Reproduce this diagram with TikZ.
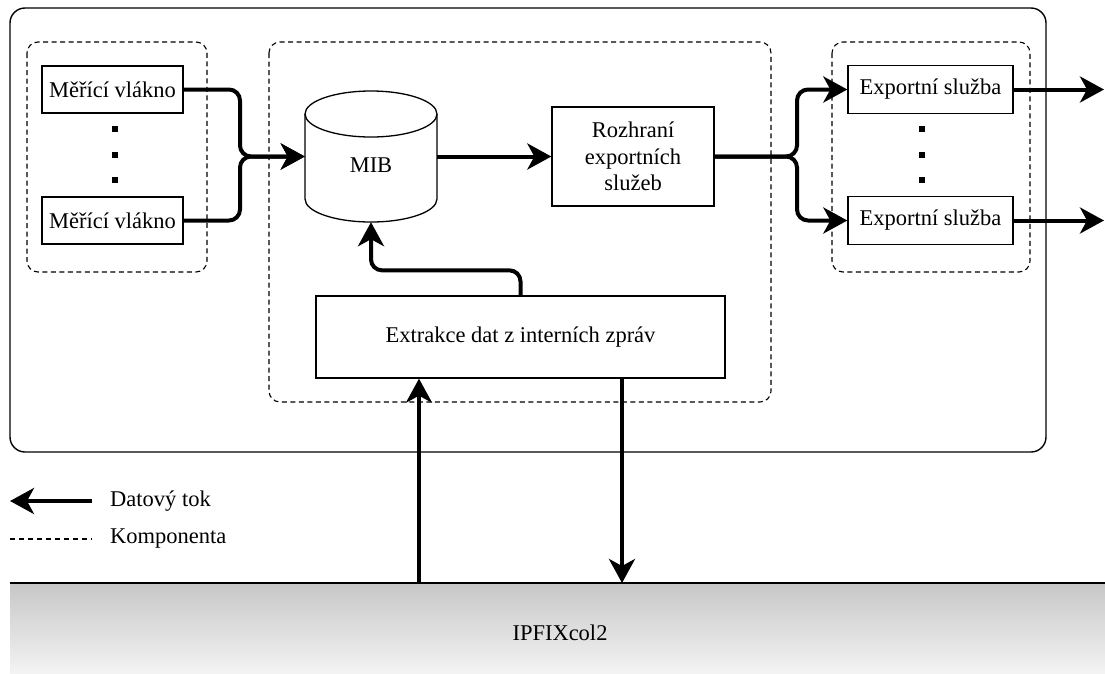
\documentclass[tikz,border=0pt]{standalone}
\usepackage{fontspec}
\setmainfont{LiberationSerif-Regular.ttf}
\usetikzlibrary{arrows.meta,calc}
\definecolor{bandtop}{RGB}{199,199,199}
\definecolor{bandbot}{RGB}{243,243,243}
\begin{document}
\begin{tikzpicture}[x=1pt,y=-1pt,
  txt/.style={font=\fontsize{22.5}{26.5}\selectfont, inner sep=0pt},
  box/.style={txt, draw, line width=1.3pt, fill=white, align=center},
  comp/.style={draw, line width=1.1pt, dash pattern=on 5pt off 3.5pt, rounded corners=11pt},
  flow/.style={line width=4pt, rounded corners=11pt, -{Stealth[length=24pt,width=26pt,inset=7pt]}},
  dot/.style={fill=black, inner sep=0pt, minimum size=6pt}
]
\useasboundingbox (0,0) rectangle (1105,673);

% outer frame
\draw[line width=1.4pt, rounded corners=15pt] (10,8) rectangle (1046,452);

% components
\draw[comp] (27,42) rectangle (207,272);
\draw[comp] (269,42) rectangle (771,402);
\draw[comp] (832,42) rectangle (1030,272);

% measuring threads
\node[box, minimum width=141pt, minimum height=47pt] (m1) at (112.5,89.5) {Měřící vlákno};
\node[box, minimum width=141pt, minimum height=47pt] (m2) at (112.5,220.5) {Měřící vlákno};
\node[dot] (d1) at (115,129) {};
\node[dot] (d2) at (115,154.5) {};
\node[dot] (d3) at (115,180) {};

% MIB cylinder
\draw[line width=1.3pt, fill=white]
  (305,114) -- (305,199) arc[start angle=180,end angle=0,x radius=66,y radius=23]
  -- (437,114) arc[start angle=0,end angle=-180,x radius=66,y radius=23] -- cycle;
\draw[line width=1.3pt] (305,114) arc[start angle=180,end angle=0,x radius=66,y radius=23];
\node[inner sep=0pt, minimum width=132pt, minimum height=131pt] (mib) at (371,156.5) {};
\node[txt] (mibt) at (371,165) {MIB};

% interface of export services
\node[box, minimum width=162pt, minimum height=99pt] (roz) at (633,156.5) {Rozhraní\\exportních\\služeb};

% exports
\node[box, minimum width=165pt, minimum height=48pt] (e1) at (930.5,89.5) {Exportní služba};
\node[box, minimum width=165pt, minimum height=48pt] (e2) at (930.5,220.5) {Exportní služba};
\node[dot] (d4) at (922,129) {};
\node[dot] (d5) at (922,154.5) {};
\node[dot] (d6) at (922,180) {};

% extraction
\node[box, minimum width=409pt, minimum height=82pt] (ext) at (520.5,337) {Extrakce dat z interních zpráv};

% IPFIXcol2 band
\shade[top color=bandtop, bottom color=bandbot] (10,583) rectangle (1105,673);
\draw[line width=1.4pt] (10,583) -- (1105,583);
\node[txt] (ipfix) at (560,633) {IPFIXcol2};

% coordinates
\coordinate (jin) at (240,156.5);
\coordinate (jout) at (797,156.5);
\coordinate (o1) at (1104,89.5);
\coordinate (o2) at (1104,220.5);
\coordinate (up0) at (419,583);
\coordinate (dn0) at (622,583);

% flows
\draw[flow] (m1.east) -| (jin) -- (mib.west);
\draw[flow] (m2.east) -| (jin) -- (mib.west);
\draw[flow] (mib.east) -- (roz.west);
\draw[flow] (roz.east) -- (jout) |- (e1.west);
\draw[flow] (roz.east) -- (jout) |- (e2.west);
\draw[flow] (e1.east) -- (o1);
\draw[flow] (e2.east) -- (o2);
\draw[flow] (ext.north) -- ++(0,-25) -| (mib.south);
\draw[flow] (up0) -- (up0 |- ext.south);
\draw[flow] (ext.south -| dn0) -- (dn0);

% legend
\coordinate (la0) at (92,501);
\coordinate (la1) at (10,501);
\draw[flow] (la0) -- (la1);
\node[txt, anchor=west] (lt1) at (110,501) {Datový tok};
\coordinate (lb0) at (10,539);
\coordinate (lb1) at (92,539);
\draw[line width=1.1pt, dash pattern=on 5pt off 4pt] (lb0) -- (lb1);
\node[txt, anchor=west] (lt2) at (110,539) {Komponenta};
\end{tikzpicture}
\end{document}
